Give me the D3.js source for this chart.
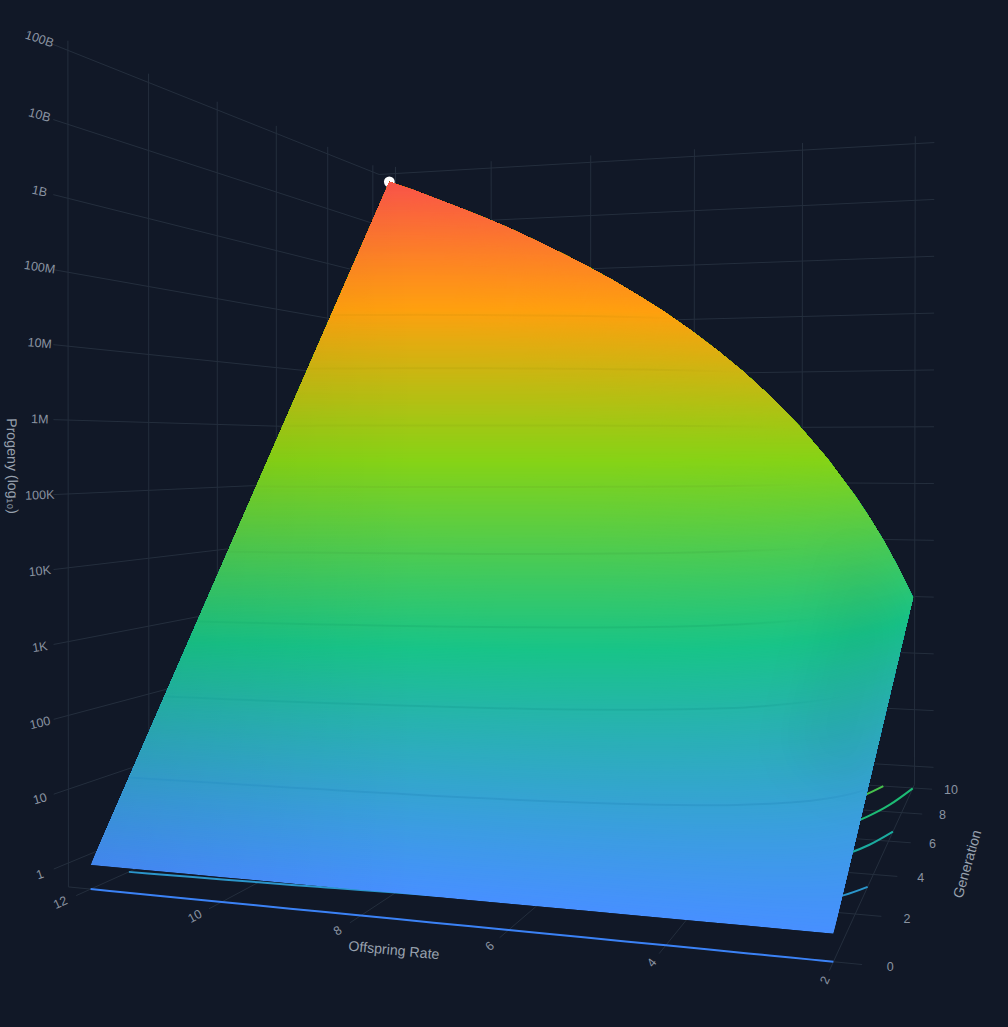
<!DOCTYPE html>
<html>
<head>
<meta charset="utf-8">
<script src="https://cdn.jsdelivr.net/npm/d3@7"></script>
<style>
  html, body { margin: 0; background: #111827; }
  text { font-family: "Liberation Sans", Arial, sans-serif; }
</style>
</head>
<body>
<svg id="chart" width="1008" height="1027"></svg>
<script>
// offspring rate columns, one row of log10(progeny) per generation
var rates = [2, 2.25, 2.5, 2.75, 3, 3.5, 4, 4.5, 5, 5.5, 6, 6.5, 7, 7.5, 8, 8.5, 9, 9.5, 10, 10.5, 11, 11.5, 12];
var generations = [0, 1, 2, 3, 4, 5, 6, 7, 8, 9, 10];
var gen0 = [0, 0, 0, 0, 0, 0, 0, 0, 0, 0, 0, 0, 0, 0, 0, 0, 0, 0, 0, 0, 0, 0, 0];
var gen1 = [0.30, 0.35, 0.40, 0.44, 0.48, 0.54, 0.60, 0.65, 0.70, 0.74, 0.78, 0.81, 0.85, 0.88, 0.90, 0.93, 0.95, 0.98, 1.00, 1.02, 1.04, 1.06, 1.08];
var gen2 = [0.60, 0.70, 0.80, 0.88, 0.95, 1.09, 1.20, 1.31, 1.40, 1.48, 1.56, 1.63, 1.69, 1.75, 1.81, 1.86, 1.91, 1.96, 2.00, 2.04, 2.08, 2.12, 2.16];
var gen3 = [0.90, 1.06, 1.19, 1.32, 1.43, 1.63, 1.81, 1.96, 2.10, 2.22, 2.33, 2.44, 2.54, 2.63, 2.71, 2.79, 2.86, 2.93, 3.00, 3.06, 3.12, 3.18, 3.24];
var gen4 = [1.20, 1.41, 1.59, 1.76, 1.91, 2.18, 2.41, 2.61, 2.80, 2.96, 3.11, 3.25, 3.38, 3.50, 3.61, 3.72, 3.82, 3.91, 4.00, 4.08, 4.17, 4.24, 4.32];
var gen5 = [1.51, 1.76, 1.99, 2.20, 2.39, 2.72, 3.01, 3.27, 3.49, 3.70, 3.89, 4.06, 4.23, 4.38, 4.52, 4.65, 4.77, 4.89, 5.00, 5.11, 5.21, 5.30, 5.40];
var gen6 = [1.81, 2.11, 2.39, 2.64, 2.86, 3.26, 3.61, 3.92, 4.19, 4.44, 4.67, 4.88, 5.07, 5.25, 5.42, 5.58, 5.73, 5.87, 6.00, 6.13, 6.25, 6.36, 6.47];
var gen7 = [2.11, 2.47, 2.79, 3.08, 3.34, 3.81, 4.21, 4.57, 4.89, 5.18, 5.45, 5.69, 5.92, 6.13, 6.32, 6.51, 6.68, 6.84, 7.00, 7.15, 7.29, 7.43, 7.55];
var gen8 = [2.41, 2.82, 3.18, 3.52, 3.82, 4.35, 4.82, 5.23, 5.59, 5.92, 6.23, 6.50, 6.76, 7.00, 7.22, 7.44, 7.63, 7.82, 8.00, 8.17, 8.33, 8.49, 8.63];
var gen9 = [2.71, 3.17, 3.58, 3.95, 4.29, 4.90, 5.42, 5.88, 6.29, 6.66, 7.00, 7.32, 7.61, 7.88, 8.13, 8.36, 8.59, 8.80, 9.00, 9.19, 9.37, 9.55, 9.71];
var gen10 = [3.01, 3.52, 3.98, 4.39, 4.77, 5.44, 6.02, 6.53, 6.99, 7.40, 7.78, 8.13, 8.45, 8.75, 9.03, 9.29, 9.54, 9.78, 10.00, 10.21, 10.41, 10.61, 10.79];
var surfaceRows = [gen0, gen1, gen2, gen3, gen4, gen5, gen6, gen7, gen8, gen9, gen10];

var peak = [12, 10, 10.79];

var rateTicks = [2, 4, 6, 8, 10, 12];
var genTicks = [0, 2, 4, 6, 8, 10];
var logTicks = [0, 1, 2, 3, 4, 5, 6, 7, 8, 9, 10, 11];
var logTickLabels = ['1', '10', '100', '1K', '10K', '100K', '1M', '10M', '100M', '1B', '10B', '100B'];
var contourLevels = [0, 1, 2, 3, 4, 5, 6, 7, 8];
var shadeRates = [2, 3];
var shadeGens = [3, 9];

// axis ranges of the scene box
var rMin = 2, rMax = 12.35, gMin = 0, gMax = 10.3, zMin = -0.325, zMax = 11.13;
var tickLen = 0.33;

// where the on-surface contours die out, in px
var fadeEnd = {1: 900, 2: 848, 3: 820, 4: 808, 5: 808, 6: 778, 7: 745, 8: 695};

// camera matrix, fitted to the box corners of the picture
var cam = [-75.27468, 56.64267, -0.06733244, 1012.472,
  7.683771, 23.82545, -89.47760, 950.2159,
  0.01709063, 0.05304040, -0.0001944203];

var project = function(r, g, z) {
  var w = cam[8]*r + cam[9]*g + cam[10]*z + 1;
  return [(cam[0]*r + cam[1]*g + cam[2]*z + cam[3])/w,
    (cam[4]*r + cam[5]*g + cam[6]*z + cam[7])/w];
};

var svg = d3.select('#chart');
var defs = svg.append('defs');
var line = d3.line();
var smoothLine = d3.line().curve(d3.curveCatmullRom);

var colorStops = [0, 2.7, 5.4, 8.1, 10.79];
var surfaceColor = d3.scaleLinear()
  .domain(colorStops)
  .range(['#4790ff', '#18c488', '#86d316', '#ffa00f', '#f9534a']);
var contourColor = d3.scaleLinear()
  .domain(colorStops)
  .range(['#3b82f6', '#10b981', '#84cc16', '#f59e0b', '#ef4444']);

// grid
var gridG = svg.append('g')
  .attr('fill', 'none')
  .attr('stroke', '#242e3d')
  .attr('stroke-width', 1);

var gridSeg = function(a, b) {
  gridG.append('path').attr('d', line([project(a[0], a[1], a[2]), project(b[0], b[1], b[2])]));
};

logTicks.forEach(function(z) {
  gridSeg([rMax, gMax, z], [rMax, gMin - tickLen, z]);
  gridSeg([rMax, gMax, z], [rMin - tickLen, gMax, z]);
});
genTicks.forEach(function(g) {
  gridSeg([rMax, g, zMin], [rMax, g, zMax]);
  gridSeg([rMax, g, zMin], [rMin - tickLen, g, zMin]);
});
rateTicks.forEach(function(r) {
  gridSeg([r, gMax, zMin], [r, gMax, zMax]);
  gridSeg([r, gMax, zMin], [r, gMin - tickLen, zMin]);
});

// where a level is crossed, column by column, starting on the far edge
var levelPath = function(level) {
  var out = [];
  rates.forEach(function(r, i) {
    if (i > 0 && gen10[i - 1] < level && gen10[i] >= level) {
      out.push([rates[i - 1] + (r - rates[i - 1])*(level - gen10[i - 1])/(gen10[i] - gen10[i - 1]), 10]);
    }
    for (var j = 0; j < generations.length - 1; j++) {
      var a = surfaceRows[j][i], b = surfaceRows[j + 1][i];
      if (a <= level && b >= level) {
        out.push([r, generations[j] + (level - a)/(b - a)]);
        return;
      }
    }
  });
  return out;
};

// contours projected onto the floor
var floorG = svg.append('g').attr('fill', 'none').attr('stroke-width', 2);
contourLevels.forEach(function(k) {
  floorG.append('path')
    .attr('stroke', contourColor(k))
    .attr('d', smoothLine(levelPath(k).map(function(p) { return project(p[0], p[1], zMin); })));
});

// peak marker
var peakXY = project(peak[0], peak[1], peak[2]);
svg.append('circle')
  .attr('cx', peakXY[0]).attr('cy', peakXY[1])
  .attr('r', 5.4)
  .attr('fill', '#ffffff');

// surface outline, used as a clip
var topEdge = rates.map(function(r, i) { return project(r, 10, gen10[i]); });
var outline = rates.map(function(r) { return project(r, 0, 0); }).concat(topEdge.slice().reverse());

defs.append('clipPath').attr('id', 'surface-clip')
  .append('path').attr('d', line(outline) + 'Z');
defs.append('filter').attr('id', 'soft')
  .attr('x', -1).attr('y', -1).attr('width', 3).attr('height', 3)
  .append('feGaussianBlur').attr('stdDeviation', 24);

var leftShade = defs.append('linearGradient').attr('id', 'left-shade')
  .attr('gradientUnits', 'userSpaceOnUse')
  .attr('x1', 90).attr('x2', 420).attr('y1', 0).attr('y2', 0);
leftShade.append('stop').attr('offset', 0).attr('stop-color', '#000').attr('stop-opacity', 0.07);
leftShade.append('stop').attr('offset', 1).attr('stop-color', '#000').attr('stop-opacity', 0);

// surface: each level paints everything above it, so no seams between colours
var bandStep = 0.02;
var bandLevels = d3.range(0, 10.79, bandStep);
var surfaceG = svg.append('g').attr('clip-path', 'url(#surface-clip)');

surfaceG.append('g').selectAll('path')
  .data(bandLevels)
  .enter().append('path')
  .attr('d', function(k) {
    var low = levelPath(k).map(function(p) { return project(p[0], p[1], k); });
    var above = topEdge.filter(function(p, i) { return gen10[i] >= k; }).reverse();
    return line(low.concat(above)) + 'Z';
  })
  .attr('fill', function(k) { return surfaceColor(k); });

surfaceG.append('path')
  .attr('d', line(outline) + 'Z')
  .attr('fill', 'url(#left-shade)');

// flank of the surface near rate 2 catches less light
var shadeCorners = [[shadeRates[0], shadeGens[0]], [shadeRates[1], shadeGens[0]], [shadeRates[1], shadeGens[1]], [shadeRates[0], shadeGens[1]]];
surfaceG.append('path')
  .attr('d', line(shadeCorners.map(function(c) {
    return project(c[0], c[1], surfaceRows[c[1]][rates.indexOf(c[0])]);
  })) + 'Z')
  .attr('fill', '#000')
  .attr('fill-opacity', 0.045)
  .attr('filter', 'url(#soft)');

// contour lines drawn on the surface, fading out towards the flank
var onSurfaceG = surfaceG.append('g').attr('fill', 'none').attr('stroke-width', 2);
contourLevels.slice(1).forEach(function(k) {
  var id = 'fade-' + k;
  var dark = d3.color(contourColor(k)).darker(0.1).formatHex();
  var grad = defs.append('linearGradient').attr('id', id)
    .attr('gradientUnits', 'userSpaceOnUse')
    .attr('x1', fadeEnd[k] - 90).attr('x2', fadeEnd[k]).attr('y1', 0).attr('y2', 0);
  grad.append('stop').attr('offset', 0).attr('stop-color', dark).attr('stop-opacity', 0.55);
  grad.append('stop').attr('offset', 1).attr('stop-color', dark).attr('stop-opacity', 0);
  onSurfaceG.append('path')
    .attr('stroke', 'url(#' + id + ')')
    .attr('d', smoothLine(levelPath(k).map(function(p) { return project(p[0], p[1], k); })));
});

// tick labels, turned along their grid line
var labelG = svg.append('g').attr('fill', '#8a93a1').attr('font-size', 12.5)
  .attr('text-anchor', 'middle').attr('dominant-baseline', 'central');

var tickLabel = function(at, from, txt, turn) {
  var p = project(at[0], at[1], at[2]), q = project(from[0], from[1], from[2]);
  var angle = Math.atan2(q[1] - p[1], q[0] - p[0])*180/Math.PI;
  labelG.append('text')
    .attr('transform', 'translate(' + p[0] + ',' + p[1] + ') rotate(' + angle*turn + ')')
    .text(txt);
};

logTicks.forEach(function(z, i) {
  tickLabel([rMax, -0.63, z], [rMax, 0, z], logTickLabels[i], 0.85);
});
rateTicks.forEach(function(r) {
  tickLabel([r, -0.68, zMin], [r, 0, zMin], r, 1);
});
genTicks.forEach(function(g) {
  tickLabel([rMin - 0.65, g, zMin], [rMin, g, zMin], g, 0);
});

// axis titles
var titleG = svg.append('g').attr('fill', '#98a1ae').attr('font-size', 14.2)
  .attr('text-anchor', 'middle').attr('dominant-baseline', 'central');
titleG.append('text').attr('transform', 'translate(394,950) rotate(5.5)').text('Offspring Rate');
titleG.append('text').attr('transform', 'translate(967,864) rotate(-74)').text('Generation');
titleG.append('text').attr('transform', 'translate(12.5,466) rotate(89)').text('Progeny (log₁₀)');
</script>
</body>
</html>
